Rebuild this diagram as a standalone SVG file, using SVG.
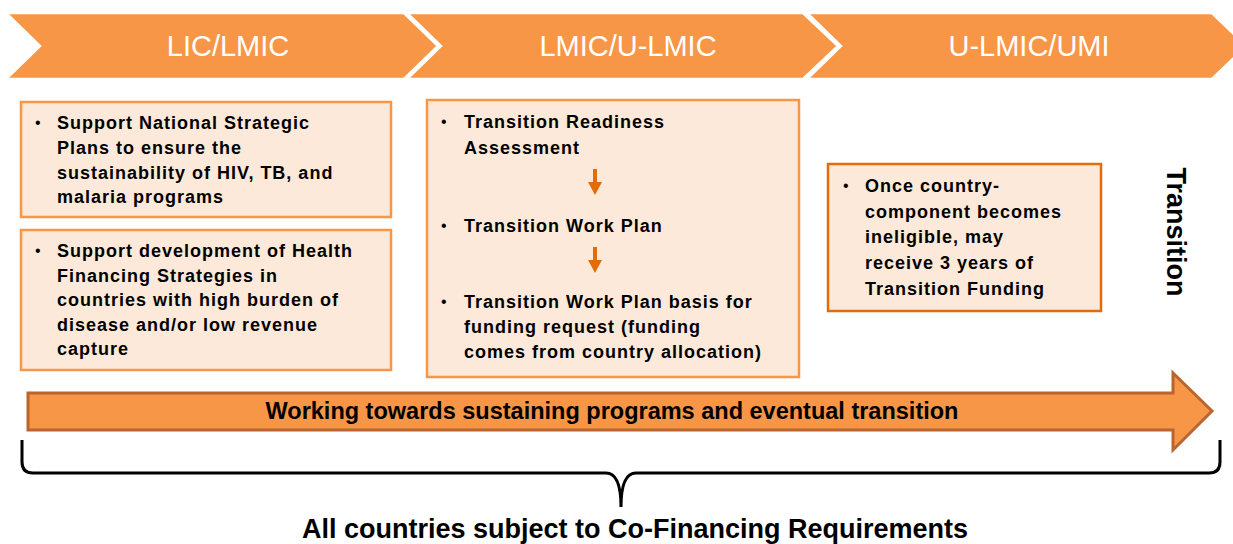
<svg xmlns="http://www.w3.org/2000/svg" width="1233" height="544" viewBox="0 0 1233 544">
<defs>
<style>
.chev{fill:#F79646;stroke:#FFFFFF;stroke-width:2.5}
.ct{font-family:"Liberation Sans",Arial,sans-serif;font-size:29px;fill:#FFFFFF;text-anchor:middle}
.box{fill:#FDE9D9;stroke:#F79646;stroke-width:2.5}
.box2{fill:#FDE9D9;stroke:#E36C09;stroke-width:2.5}
.bt{font-family:"Liberation Sans",Arial,sans-serif;font-size:18px;font-weight:bold;fill:#000000;letter-spacing:1px}
.bul{font-family:"Liberation Sans",Arial,sans-serif;font-size:16px;fill:#000000}
.sm{fill:#E36C09}
.big{fill:#F79646;stroke:#B9652D;stroke-width:3}
.at{font-family:"Liberation Sans",Arial,sans-serif;font-size:23.5px;font-weight:bold;fill:#000000;text-anchor:middle}
.brace{fill:none;stroke:#000000;stroke-width:3}
</style>
</defs>
<g id="stage-lic">
<polygon class="chev" points="6,13 404,13 438,46 404,79 6,79 40,46"/>
<text class="ct" x="228" y="56">LIC/LMIC</text>
</g>
<g id="stage-lmic">
<polygon class="chev" points="407,13 803,13 838,46 803,79 407,79 441,46"/>
<text class="ct" x="628" y="56">LMIC/U-LMIC</text>
</g>
<g id="stage-umi">
<polygon class="chev" points="807,13 1212,13 1246,46 1212,79 807,79 841,46"/>
<text class="ct" x="1029" y="56">U-LMIC/UMI</text>
</g>
<g id="box-nsp">
<rect class="box" x="21" y="102" width="370" height="115"/>
<text class="bul" x="35" y="128">•</text>
<text class="bt" x="57" y="129">Support National Strategic</text>
<text class="bt" x="57" y="154">Plans to ensure the</text>
<text class="bt" x="57" y="179">sustainability of HIV, TB, and</text>
<text class="bt" x="57" y="203">malaria programs</text>
</g>
<g id="box-hfs">
<rect class="box" x="21" y="230" width="370" height="140"/>
<text class="bul" x="35" y="256">•</text>
<text class="bt" x="57" y="257">Support development of Health</text>
<text class="bt" x="57" y="282">Financing Strategies in</text>
<text class="bt" x="57" y="306">countries with high burden of</text>
<text class="bt" x="57" y="331">disease and/or low revenue</text>
<text class="bt" x="57" y="355">capture</text>
</g>
<g id="box-transition-plan">
<rect class="box" x="427" y="100" width="372" height="277"/>
<text class="bul" x="441" y="127">•</text>
<text class="bt" x="464" y="128">Transition Readiness</text>
<text class="bt" x="464" y="154">Assessment</text>
<text class="bul" x="441" y="231">•</text>
<text class="bt" x="464" y="232">Transition Work Plan</text>
<text class="bul" x="441" y="307">•</text>
<text class="bt" x="464" y="308">Transition Work Plan basis for</text>
<text class="bt" x="464" y="333">funding request (funding</text>
<text class="bt" x="464" y="358">comes from country allocation)</text>
</g>
<g id="box-transition-funding">
<rect class="box2" x="828" y="164" width="273" height="147"/>
<text class="bul" x="843" y="191">•</text>
<text class="bt" x="865" y="192">Once country-</text>
<text class="bt" x="865" y="218">component becomes</text>
<text class="bt" x="865" y="243">ineligible, may</text>
<text class="bt" x="865" y="269">receive 3 years of</text>
<text class="bt" x="865" y="295">Transition Funding</text>
</g>
<g id="label-transition">
<text font-family="Liberation Sans, Arial, sans-serif" font-size="27" font-weight="bold" fill="#000000" text-anchor="middle" transform="translate(1167,232) rotate(90)">Transition</text>
</g>
<g id="connectors">
<polygon class="sm" points="593,169 597,169 597,182 602,182 595,195 588,182 593,182"/>
<polygon class="sm" points="593,247 597,247 597,260 602,260 595,273 588,260 593,260"/>
</g>
<g id="progress-arrow">
<polygon class="big" points="28,393 1173,393 1173,373 1212,411 1173,450 1173,430 28,430"/>
<text class="at" x="612" y="419">Working towards sustaining programs and eventual transition</text>
</g>
<g id="brace">
<path class="brace" d="M22,440 V462 Q22,473 33,473 H606 Q621,473 621,507 Q621,473 636,473 H1209 Q1220,473 1220,462 V440"/>
<text font-family="Liberation Sans, Arial, sans-serif" font-size="27" font-weight="bold" fill="#000000" text-anchor="middle" x="635" y="538">All countries subject to Co-Financing Requirements</text>
</g>
</svg>
